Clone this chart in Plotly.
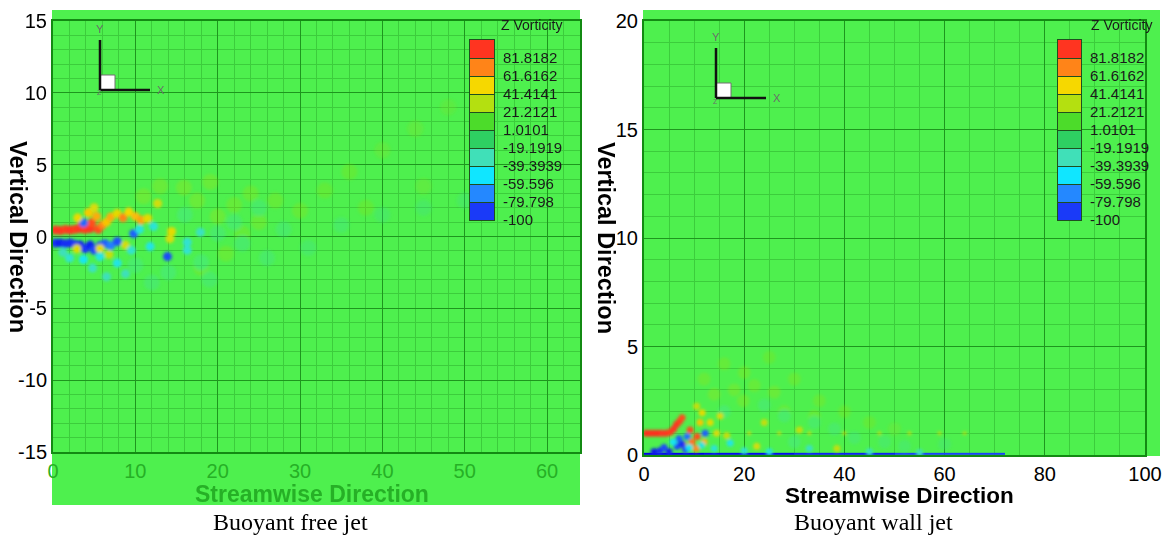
import plotly.graph_objects as go

W, H = 1164, 541

# Z-vorticity contour levels shown in the legends
level_values = [-100, -79.798, -59.596, -39.3939, -19.1919, 1.0101, 21.2121, 41.4141, 61.6162, 81.8182]
level_labels = ["-100", "-79.798", "-59.596", "-39.3939", "-19.1919", "1.0101", "21.2121", "41.4141", "61.6162", "81.8182"]
level_top = 102.0202

# Axis ticks
free_x_ticks = [0, 10, 20, 30, 40, 50, 60]
free_y_ticks = [-15, -10, -5, 0, 5, 10, 15]
wall_x_ticks = [0, 20, 40, 60, 80, 100]
wall_y_ticks = [0, 5, 10, 15, 20]

# Buoyant free jet: strong vortical structures near the nozzle
free_core_x = [0.3, 0.9, 1.5, 2.1, 2.7, 3.3, 3.5, 3.9, 4.5, 4.7, 5.5, 6.0,
               0.3, 0.9, 1.5, 2.1, 2.7, 3.3, 3.9, 4.5, 5.0, 5.7, 6.3, 7.0, 7.8,
               3.7, 9.8, 13.9,
               3.0, 4.3, 5.3, 5.0, 6.5, 7.0, 7.8, 8.5, 9.2, 10.0, 10.7, 11.5, 12.7, 14.4, 14.2, 5.7, 2.9, 6.8, 8.8,
               3.7, 5.7, 7.8, 11.8, 12.2, 16.3, 17.9, 16.3, 9.5, 10.5, 2.0, 4.8, 8.8, 6.5, 1.2]
free_core_y = [0.45, 0.42, 0.48, 0.45, 0.5, 0.55, 0.9, 0.5, 0.55, 0.95, 0.5, 0.8,
               -0.45, -0.45, -0.5, -0.45, -0.55, -0.6, -0.85, -0.6, -0.95, -0.65, -0.5, -0.65, -0.35,
               0.95, 0.2, -1.4,
               1.3, 1.65, 1.4, 2.0, 1.0, 1.35, 1.6, 1.3, 1.7, 1.4, 1.15, 1.25, 2.3, 0.35, -0.15, -0.85, -0.85, -1.25, -0.6,
               -1.6, -1.4, -1.85, -0.7, 0.7, -0.4, 0.3, -0.95, -0.95, 0.5, -1.5, -2.2, -2.6, -2.8, -1.1]
free_core_w = [92, 92, 90, 92, 90, 92, 88, 90, 92, 85, 86, 72,
               -92, -94, -92, -92, -90, -94, -90, -94, -86, -90, -80, -72, -84,
               -78, -80, -86,
               48, 55, 62, 42, 56, 62, 46, 72, 52, 58, 64, 46, 40, 46, 42, 46, 44, 36, 40,
               -46, -42, -42, -42, -38, -36, -32, -36, -36, -40, -36, -32, -30, -30, -30]

# Buoyant free jet: weak structures drifting downstream
free_weak_x = [13, 15.9, 17.5, 19.1, 20, 22, 24, 25, 27, 30, 33, 36, 40, 44, 48, 38, 45, 11, 21, 18, 23,
               18, 20, 23, 26, 28, 31, 35, 40, 45, 50, 14, 12, 10, 22, 19, 16, 25]
free_weak_y = [3.5, 3.4, 2.5, 3.8, 1.4, 2.2, 3.0, 1.0, 2.5, 1.8, 3.2, 4.5, 6.0, 7.5, 9.0, 2.0, 3.5, 2.8, -1.2, -2.2, 0.2,
               -1.8, 0.2, -0.5, -1.5, 0.5, -0.8, 0.8, 1.5, 2.0, 2.5, -2.5, -3.2, -2.0, 1.0, -3.0, 1.5, 2.0]
free_weak_w = [32, 34, 34, 32, 34, 30, 30, 30, 28, 28, 26, 26, 24, 24, 22, 26, 24, 34, 30, 30, 28,
               -32, -30, -30, -28, -28, -26, -26, -24, -24, -22, -32, -30, -32, -30, -28, -32, -28]

# Buoyant wall jet: strong structures near the inlet
wall_core_x = [0.4, 1.2, 2.0, 2.8, 3.6, 4.4, 5.2, 5.9, 6.5, 7.1, 7.6,
               9.2, 9.6, 10.6, 11.2, 10.4, 8.0, 12.0,
               2.0, 3.2, 4.0, 5.0, 6.6, 7.0, 7.6, 8.3, 8.6, 12.2,
               5.8, 9.0, 11.5, 17.2, 14.0, 20.0, 25.0, 33.0, 45.0, 55.0,
               13.2, 15.2, 11.6, 10.5, 14.5, 16.5, 22.5, 24.0, 31.0, 38.5]
wall_core_y = [1.0, 1.0, 1.0, 1.0, 1.0, 1.0, 1.05, 1.2, 1.4, 1.55, 1.72,
               1.15, 0.6, 0.85, 1.5, 0.3, 0.45, 0.6,
               0.15, 0.2, 0.35, 0.15, 0.4, 0.75, 0.5, 0.25, 0.85, 1.0,
               0.6, 0.35, 0.45, 0.55, 0.3, 0.2, 0.15, 0.3, 0.15, 0.12,
               1.5, 1.8, 1.95, 2.25, 1.0, 0.9, 0.4, 1.5, 1.15, 0.3]
wall_core_w = [94, 94, 94, 94, 92, 92, 90, 92, 92, 90, 86,
               86, 76, 86, 56, 70, 66, 60,
               -96, -92, -86, -94, -86, -80, -92, -86, -76, -80,
               -46, -46, -40, -42, -38, -36, -40, -32, -32, -30,
               46, 42, 46, 36, 42, 36, 42, 36, 36, 36]

# Buoyant wall jet: thin streak along y = 1
wall_streak_x = [21, 27, 33, 40, 47, 53, 59, 64]
wall_streak_y = [1.0, 1.0, 1.0, 1.0, 1.0, 1.0, 1.0, 1.0]
wall_streak_w = [52, 50, 48, 48, 46, 46, 44, 42]

# Buoyant wall jet: weak structures above the wall
wall_weak_x = [12, 16, 20, 25, 30, 35, 40, 45, 50, 18, 22, 19.8, 26, 28, 14, 34,
               28, 34, 42, 48, 38, 24, 16, 30, 60, 52]
wall_weak_y = [3.5, 4.2, 3.8, 4.5, 3.5, 2.5, 2.0, 1.5, 1.2, 3.0, 3.2, 2.5, 2.9, 2.0, 2.8, 1.8,
               1.8, 1.5, 0.8, 0.6, 1.2, 2.3, 2.0, 0.6, 0.5, 0.4]
wall_weak_w = [30, 28, 30, 26, 28, 28, 26, 26, 24, 32, 30, 32, 32, 30, 34, 28,
               -30, -28, -28, -26, -28, -30, -32, -32, -24, -26]

# Negative-vorticity boundary layer on the wall (x edges, vorticity)
wall_layer_x = [0, 12, 30, 50, 72]
wall_layer_w = [-100, -98, -94, -88]
wall_layer_top = 0.1

vort_scale = [
    [0.00, "#0000e6"], [0.05, "#1a3af8"], [0.15, "#2488ff"], [0.25, "#10e6ff"],
    [0.35, "#40e0b8"], [0.45, "#2ed062"], [0.55, "#4cdc2a"], [0.65, "#b4e010"],
    [0.75, "#f6d800"], [0.85, "#ff8418"], [0.95, "#ff3420"], [1.00, "#ff1818"],
]

FIELD = "#4ef04e"
MAJOR = "#1e961e"
MINOR = "#3ccd3c"
FRAME = "#138a13"
SANS = "Liberation Sans, Arial, sans-serif"
SERIF = "Liberation Serif, Times New Roman, serif"

band_mid = [(a + b) / 2 for a, b in zip(level_values, level_values[1:] + [level_top])]

fig = go.Figure()


def blobs(x, y, w, ax, cax, size, opacity=1.0):
    fig.add_trace(go.Scatter(
        x=x, y=y, mode="markers", xaxis=ax[0], yaxis=ax[1], hoverinfo="skip",
        opacity=opacity,
        marker=dict(color=w, coloraxis=cax, size=size, line=dict(width=0)),
    ))


# Free jet panel
blobs(free_weak_x, free_weak_y, free_weak_w, ("x", "y"), "coloraxis", 16, 0.25)
blobs(free_core_x, free_core_y, free_core_w, ("x", "y"), "coloraxis", 9)

# Wall jet panel
blobs(wall_weak_x, wall_weak_y, wall_weak_w, ("x2", "y2"), "coloraxis2", 13, 0.25)
fig.add_trace(go.Heatmap(
    x=wall_layer_x, y=[0, wall_layer_top], z=[wall_layer_w],
    coloraxis="coloraxis2", xaxis="x2", yaxis="y2", hoverinfo="skip",
))
blobs(wall_streak_x, wall_streak_y, wall_streak_w, ("x2", "y2"), "coloraxis2", 4, 0.7)
blobs(wall_core_x, wall_core_y, wall_core_w, ("x2", "y2"), "coloraxis2", 7)

# Contour legends
for ax, cax in ((("x3", "y3"), "coloraxis"), (("x4", "y4"), "coloraxis2")):
    fig.add_trace(go.Heatmap(
        x=[0, 1], y=level_values + [level_top], z=[[v] for v in band_mid],
        coloraxis=cax, xaxis=ax[0], yaxis=ax[1], hoverinfo="skip",
    ))


def px_x(p):
    return p / W


def px_y(p):
    return 1 - p / H


def main_axis(domain, rng, ticks, minor, color, anchor, size=20):
    return dict(
        domain=domain, range=rng, anchor=anchor, automargin=False,
        tickvals=ticks, ticktext=[str(t) for t in ticks],
        showgrid=True, gridcolor=MAJOR, gridwidth=1,
        minor=dict(dtick=minor, tick0=0, showgrid=True, gridcolor=MINOR, gridwidth=1),
        zeroline=False, showline=True, linecolor=FRAME, linewidth=2, mirror=True,
        ticks="", tickfont=dict(family=SANS, size=size, color=color),
    )


def legend_axes(x0, x1):
    xa = dict(domain=[px_x(x0), px_x(x1)], range=[0, 1], showticklabels=False,
              showgrid=False, zeroline=False, ticks="", automargin=False,
              showline=True, linecolor="#1f4f1f", linewidth=1, mirror=True)
    ya = dict(domain=[px_y(220), px_y(40)], range=[-100, level_top], side="right",
              tickvals=level_values, ticktext=level_labels, ticks="inside",
              ticklen=x1 - x0, tickcolor="#1f4f1f", tickwidth=1, automargin=False,
              showgrid=False, zeroline=False, ticklabelstandoff=5,
              showline=True, linecolor="#1f4f1f", linewidth=1, mirror=True,
              tickfont=dict(family=SANS, size=15, color="#1a1a1a"))
    return xa, ya


lx3, ly3 = legend_axes(470, 494)
lx4, ly4 = legend_axes(1058, 1081)
lx3["anchor"], ly3["anchor"] = "y3", "x3"
lx4["anchor"], ly4["anchor"] = "y4", "x4"

shapes = [
    dict(type="rect", xref="paper", yref="paper", layer="below",
         x0=px_x(52), x1=px_x(580), y0=px_y(505), y1=px_y(10),
         fillcolor=FIELD, line=dict(width=0)),
    dict(type="rect", xref="paper", yref="paper", layer="below",
         x0=px_x(643), x1=px_x(1160), y0=px_y(456), y1=px_y(10),
         fillcolor=FIELD, line=dict(width=0)),
]

annotations = []


def triad(ox, oy):
    shapes.append(dict(type="rect", xref="paper", yref="paper",
                       x0=px_x(ox), x1=px_x(ox + 15), y0=px_y(oy), y1=px_y(oy - 15),
                       fillcolor="white", line=dict(color="#707070", width=1)))
    shapes.append(dict(type="line", xref="paper", yref="paper",
                       x0=px_x(ox), x1=px_x(ox), y0=px_y(oy), y1=px_y(oy - 50),
                       line=dict(color="#111111", width=2.5)))
    shapes.append(dict(type="line", xref="paper", yref="paper",
                       x0=px_x(ox), x1=px_x(ox + 50), y0=px_y(oy), y1=px_y(oy),
                       line=dict(color="#111111", width=2.5)))
    for txt, tx, ty, sz in (("Y", ox, oy - 61, 11), ("X", ox + 61, oy, 11), ("Z", ox - 1, oy + 3, 7)):
        annotations.append(dict(text=txt, x=px_x(tx), y=px_y(ty), xref="paper", yref="paper",
                                showarrow=False, xanchor="center", yanchor="middle",
                                font=dict(family=SANS, size=sz, color="#6a6a6a")))


triad(100, 90)
triad(716, 98)


def note(text, x, y, size, color="#000000", family=SANS, angle=0, xanchor="center"):
    annotations.append(dict(text=text, x=px_x(x), y=px_y(y), xref="paper", yref="paper",
                            showarrow=False, xanchor=xanchor, yanchor="middle", textangle=angle,
                            font=dict(family=family, size=size, color=color)))


note("<b>Vertical Direction</b>", 18, 237, 23.5, angle=90)
note("<b>Vertical Direction</b>", 606, 238, 23.5, angle=90)
note("<b>Streamwise Direction</b>", 312, 494, 23, color="#26b026")
note("<b>Streamwise Direction</b>", 899, 496, 22.5)
note("Z Vorticity", 564, 25, 14, color="#1a1a1a", xanchor="right")
note("Z Vorticity", 1154, 25, 14, color="#1a1a1a", xanchor="right")
note("Buoyant free jet", 290, 522, 24, family=SERIF)
note("Buoyant wall jet", 873, 522, 24, family=SERIF)

cax = dict(colorscale=vort_scale, cmin=-100, cmax=level_top, showscale=False)

fig.update_layout(
    width=W, height=H, autosize=False,
    margin=dict(l=0, r=0, t=0, b=0, pad=0, autoexpand=False),
    paper_bgcolor="white", plot_bgcolor=FIELD,
    showlegend=False,
    coloraxis=cax, coloraxis2=cax,
    xaxis=main_axis([px_x(53), px_x(580)], [0, 64], free_x_ticks, 2, "#26b026", "y"),
    yaxis=main_axis([px_y(452), px_y(21)], [-15, 15], free_y_ticks, 1, "#000000", "x"),
    xaxis2=main_axis([px_x(644), px_x(1145)], [0, 100], wall_x_ticks, 5, "#000000", "y2"),
    yaxis2=main_axis([px_y(455), px_y(21)], [0, 20], wall_y_ticks, 1, "#000000", "x2"),
    xaxis3=lx3, yaxis3=ly3, xaxis4=lx4, yaxis4=ly4,
    shapes=shapes, annotations=annotations,
)

# Page without body margin; soften the vorticity blobs of the two field plots
page_js = """
document.body.style.margin = '0';
var gd = document.getElementById('{plot_id}');
var svg = gd.querySelector('svg.main-svg');
var ns = 'http://www.w3.org/2000/svg';
var defs = svg.querySelector('defs') || svg.insertBefore(document.createElementNS(ns, 'defs'), svg.firstChild);
var flt = document.createElementNS(ns, 'filter');
flt.setAttribute('id', 'soft-field');
flt.setAttribute('x', '-5%'); flt.setAttribute('y', '-5%');
flt.setAttribute('width', '110%'); flt.setAttribute('height', '110%');
var blur = document.createElementNS(ns, 'feGaussianBlur');
blur.setAttribute('stdDeviation', '1.4');
flt.appendChild(blur);
defs.appendChild(flt);
gd.querySelectorAll('.subplot.xy .scatterlayer, .subplot.x2y2 .scatterlayer').forEach(function (g) {
    g.setAttribute('filter', 'url(#soft-field)');
});
"""

fig.write_html("out.html", post_script=page_js)
